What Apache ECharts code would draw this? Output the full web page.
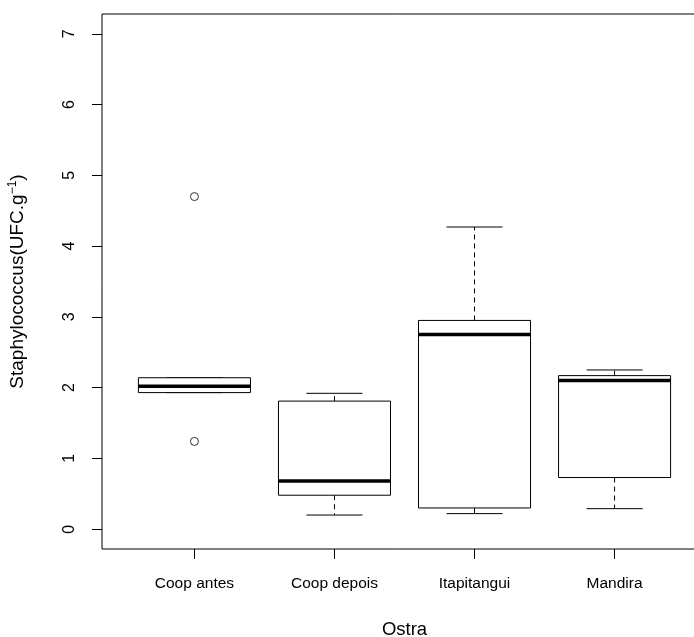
<!DOCTYPE html>
<html>
<head>
<meta charset="utf-8">
<script src="https://cdn.jsdelivr.net/npm/echarts@6/dist/echarts.min.js"></script>
<style>html,body{margin:0;padding:0;background:#fff;}#c{width:694px;height:637px;}</style>
</head>
<body>
<div id="c"></div>
<script>
var categories = ['Coop antes', 'Coop depois', 'Itapitangui', 'Mandira'];
var lowerWhisker = [1.93, 0.20, 0.22, 0.29];
var q1 = [1.93, 0.48, 0.30, 0.73];
var median = [2.02, 0.68, 2.75, 2.10];
var q3 = [2.14, 1.81, 2.95, 2.17];
var upperWhisker = [2.14, 1.92, 4.27, 2.25];
var outlierCategory = [0, 0];
var outlierValue = [4.70, 1.24];
var yTicks = [0, 1, 2, 3, 4, 5, 6, 7];

var boxData = categories.map(function (c, i) {
  return [i + 1, lowerWhisker[i], q1[i], median[i], q3[i], upperWhisker[i]];
});
var outlierData = outlierValue.map(function (v, i) {
  return [outlierCategory[i] + 1, v];
});

var chart = echarts.init(document.getElementById('c'), null, {renderer: 'canvas'});
var fontFam = '"Liberation Sans", Arial, sans-serif';

function renderBox(params, api) {
  var x = api.value(0);
  var lo = api.value(1), a = api.value(2), m = api.value(3), b = api.value(4), hi = api.value(5);
  var L = api.coord([x - 0.4, b]);
  var R = api.coord([x + 0.4, a]);
  var cL = api.coord([x - 0.2, hi]);
  var cR = api.coord([x + 0.2, lo]);
  var cx = api.coord([x, m])[0];
  var yM = api.coord([x, m])[1];
  var yB = L[1], yA = R[1], yHi = cL[1], yLo = cR[1];
  var solid = {stroke: '#000', lineWidth: 1, fill: null};
  var dashed = {stroke: '#000', lineWidth: 1, lineDash: [5, 4], fill: null};
  return {
    type: 'group',
    children: [
      {type: 'line', shape: {x1: cx, y1: yB, x2: cx, y2: yHi}, style: dashed},
      {type: 'line', shape: {x1: cx, y1: yA, x2: cx, y2: yLo}, style: dashed},
      {type: 'line', shape: {x1: cL[0], y1: yHi, x2: cR[0], y2: yHi}, style: solid},
      {type: 'line', shape: {x1: cL[0], y1: yLo, x2: cR[0], y2: yLo}, style: solid},
      {type: 'rect', shape: {x: L[0], y: yB, width: R[0] - L[0], height: yA - yB}, style: {stroke: '#000', lineWidth: 1, fill: '#fff'}},
      {type: 'line', shape: {x1: L[0], y1: yM, x2: R[0], y2: yM}, style: {stroke: '#000', lineWidth: 3.5}}
    ]
  };
}

var option = {
  animation: false,
  backgroundColor: '#fff',
  grid: {show: true, left: 102, top: 14, width: 605, height: 535, borderColor: '#000', borderWidth: 1,
         backgroundColor: 'transparent', containLabel: false, outerBoundsMode: 'none'},
  xAxis: {
    type: 'value', min: 0.34, max: 4.66,
    splitLine: {show: false},
    axisLine: {show: false, onZero: false},
    axisTick: {show: true, length: 10, customValues: [1, 2, 3, 4], lineStyle: {color: '#000', width: 1}},
    axisLabel: {
      customValues: [1, 2, 3, 4],
      formatter: function (v) { return categories[Math.round(v) - 1] || ''; },
      color: '#000', fontSize: 15.5, fontFamily: fontFam, margin: 27
    },
    name: 'Ostra', nameLocation: 'middle', nameGap: 71,
    nameTextStyle: {color: '#000', fontSize: 18.5, fontFamily: fontFam}
  },
  yAxis: {
    type: 'value', min: -0.28, max: 7.28,
    splitLine: {show: false},
    axisLine: {show: false, onZero: false},
    axisTick: {show: true, length: 10, customValues: yTicks, lineStyle: {color: '#000', width: 1}},
    axisLabel: {
      customValues: yTicks,
      rotate: 90,
      color: '#000', fontSize: 16, fontFamily: fontFam, margin: 24
    },
    name: '{t|Staphylococcus(UFC.g}{s|\u22121}{t|)}', nameLocation: 'middle', nameGap: 74, nameRotate: 90,
    nameTextStyle: {
      color: '#000', fontFamily: fontFam,
      rich: {
        t: {fontSize: 19, fontFamily: fontFam, color: '#000'},
        s: {fontSize: 12, fontFamily: fontFam, color: '#000', verticalAlign: 'top', padding: [0, 0, 9, 0]}
      }
    }
  },
  series: [
    {type: 'custom', renderItem: renderBox, data: boxData, encode: {x: 0, y: [1, 2, 3, 4, 5]}, clip: false, silent: true},
    {type: 'scatter', data: outlierData, symbol: 'circle', symbolSize: 8, z: 5,
     itemStyle: {color: '#fff', borderColor: '#000', borderWidth: 1}, silent: true}
  ]
};
chart.setOption(option);
</script>
</body>
</html>
